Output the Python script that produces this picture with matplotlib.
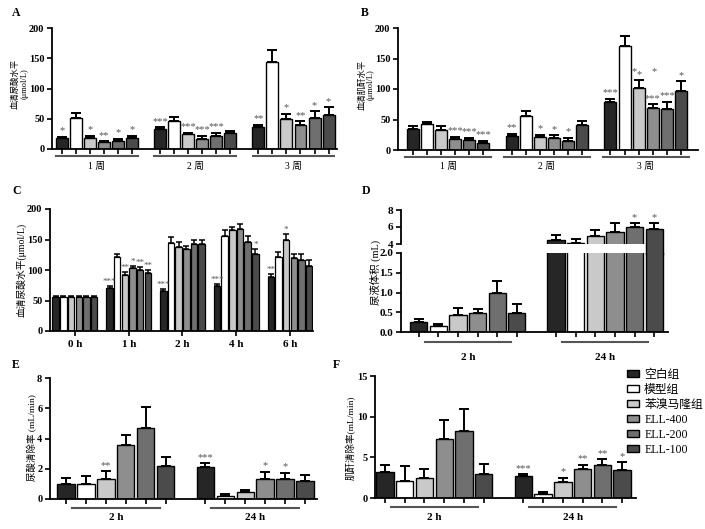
import matplotlib
matplotlib.use('Agg')
import matplotlib.pyplot as plt
import matplotlib.transforms as mtrans
import numpy as np
from matplotlib.patches import Patch, Rectangle
from matplotlib.lines import Line2D

plt.rcParams['font.family'] = ['Liberation Serif', 'Noto Sans CJK SC']
plt.rcParams['axes.linewidth'] = 1.3

W, H = 705, 529
fig = plt.figure(figsize=(W / 100, H / 100), dpi=100)

group_names = ['空白组', '模型组', '苯溴马隆组', 'ELL-400', 'ELL-200', 'ELL-100']
colors = ['#262626', '#ffffff', '#c9c9c9', '#8e8e8e', '#6f6f6f', '#4b4b4b']

# ---------------- data ----------------
A_labels = ['1 周', '2 周', '3 周']
A_vals = [[18, 51, 18, 11, 14, 19], [33, 47, 24, 17, 22, 26], [37, 143, 50, 40, 51, 57]]
A_errs = [[2, 8, 4, 2, 3, 3], [3, 6, 3, 5, 5, 4], [3, 20, 8, 6, 11, 12]]
A_stars = [['*', '', '*', '**', '*', '*'], ['***', '', '***', '***', '***', ''], ['**', '', '*', '**', '*', '*']]

B_labels = ['1 周', '2 周', '3 周']
B_vals = [[35, 42, 32, 18, 17, 11], [23, 55, 21, 20, 15, 41], [79, 171, 102, 69, 68, 97]]
B_errs = [[5, 4, 8, 4, 3, 4], [4, 9, 4, 4, 5, 7], [5, 16, 12, 6, 11, 16]]
B_stars = [['', '', '', '***', '***', '***'], ['**', '', '*', '*', '*', ''], ['***', '', '*', '***', '***', '*']]

C_labels = ['0 h', '1 h', '2 h', '4 h', '6 h']
C_vals = [[55, 55, 55, 55, 55, 55], [70, 122, 91, 103, 100, 95], [65, 145, 138, 134, 143, 143],
          [73, 156, 166, 168, 146, 127], [88, 121, 150, 119, 116, 107]]
C_errs = [[3, 3, 3, 3, 3, 3], [4, 5, 6, 4, 5, 5], [4, 9, 8, 5, 6, 6], [4, 10, 5, 8, 9, 7], [6, 9, 9, 7, 10, 10]]
C_stars = [['', '', '', '', '', ''], ['***', '', '**', '*', '**', '**'], ['***', '', '', '', '', ''],
           ['***', '', '', '', '', '*'], ['**', '', '*', '', '', '']]

D_labels = ['2 h', '24 h']
D_vals = [[0.25, 0.15, 0.42, 0.47, 1.0, 0.48], [4.5, 4.1, 5.0, 5.4, 6.0, 5.8]]
D_errs = [[0.09, 0.05, 0.19, 0.12, 0.3, 0.23], [0.6, 0.5, 0.65, 1.1, 0.45, 0.65]]
D_stars = [['', '', '', '', '', ''], ['', '', '', '', '*', '*']]

E_labels = ['2 h', '24 h']
E_vals = [[1.0, 1.0, 1.35, 3.6, 4.7, 2.2], [2.1, 0.2, 0.45, 1.3, 1.3, 1.18]]
E_errs = [[0.4, 0.5, 0.5, 0.65, 1.35, 0.55], [0.25, 0.1, 0.15, 0.5, 0.45, 0.4]]
E_stars = [['', '', '**', '', '', ''], ['***', '', '', '*', '*', '']]

F_labels = ['2 h', '24 h']
F_vals = [[3.2, 2.1, 2.4, 7.3, 8.2, 2.9], [2.7, 0.5, 2.0, 3.6, 4.0, 3.5]]
F_errs = [[0.85, 1.8, 1.2, 2.3, 2.8, 1.25], [0.25, 0.2, 0.5, 0.5, 0.75, 0.9]]
F_stars = [['', '', '', '', '', ''], ['***', '', '*', '**', '**', '*']]

GAP = 7


def add_ax(l, t, r, b):
    return fig.add_axes([l / W, 1 - b / H, (r - l) / W, (b - t) / H])


def style(ax, fs=7.5):
    for s in ['top', 'right']:
        ax.spines[s].set_visible(False)
    ax.tick_params(axis='both', direction='out', length=3.5, width=1.2, labelsize=fs, pad=2)
    for lab in ax.get_yticklabels():
        lab.set_fontweight('bold')


def draw_bars(ax, vals, errs, stars, width=0.85, capsize=3.5, lw=1.0, elw=1.4, star_fs=7.5, star_off=1):
    xs = []
    for g in range(len(vals)):
        for i in range(6):
            x = g * GAP + i
            xs.append(x)
            ax.bar(x, vals[g][i], width, color=colors[i], edgecolor='black', linewidth=lw, zorder=2)
            ax.errorbar(x, vals[g][i], yerr=[[0], [errs[g][i]]], fmt='none', ecolor='black',
                        capsize=capsize, elinewidth=elw, capthick=elw, zorder=3)
            if stars[g][i]:
                ax.annotate(stars[g][i], (x, vals[g][i] + errs[g][i]), xytext=(0, star_off),
                            textcoords='offset points', ha='center', va='bottom',
                            fontsize=star_fs, color='#555555', annotation_clip=False)
    return xs


def group_lines(ax, labels, half, line_px, label_px, axh, bold=True, fs=8):
    trans = ax.get_xaxis_transform()
    for g, lab in enumerate(labels):
        c = g * GAP + 2.5
        ax.plot([c - half, c + half], [-line_px / axh] * 2, transform=trans, clip_on=False,
                color='#555555', lw=1.5)
        ax.text(c, -label_px / axh, lab, transform=trans, ha='center', va='center', fontsize=fs,
                fontweight='bold' if bold else 'normal')


# ---------------- A ----------------
axA = add_ax(52, 28, 337, 149)
xs = draw_bars(axA, A_vals, A_errs, A_stars)
axA.set_ylim(0, 200)
axA.set_yticks([0, 50, 100, 150, 200])
axA.set_xlim(-0.7, 19.6)
axA.set_xticks(xs)
axA.set_xticklabels([])
style(axA)
group_lines(axA, A_labels, 2.9, 7, 17, 121, bold=False, fs=7)

# ---------------- B ----------------
axB = add_ax(398, 28, 698, 150)
xs = draw_bars(axB, B_vals, B_errs, B_stars)
axB.set_ylim(0, 200)
axB.set_yticks([0, 50, 100, 150, 200])
axB.set_xlim(-1.05, 20.2)
axB.set_xticks(xs)
axB.set_xticklabels([])
style(axB)
group_lines(axB, B_labels, 3.05, 7, 16, 122, bold=False, fs=7)

# ---------------- C ----------------
axC = add_ax(50, 209, 313, 331)
draw_bars(axC, C_vals, C_errs, C_stars, width=0.85, capsize=2, lw=0.9, elw=1.1, star_fs=6.5, star_off=0)
axC.set_ylim(0, 200)
axC.set_yticks([0, 50, 100, 150, 200])
axC.set_xlim(-0.75, 33.5)
axC.set_xticks([g * GAP + 2.5 for g in range(5)])
axC.set_xticklabels(C_labels, fontweight='bold', fontsize=8)
style(axC)
axC.tick_params(axis='x', labelsize=8, pad=3)

# ---------------- D (broken axis) ----------------
axDu = add_ax(401, 210, 668, 244)
axDl = add_ax(401, 253, 668, 332)
for ax in (axDu, axDl):
    draw_bars(ax, D_vals, D_errs, D_stars, width=0.88)
    ax.set_xlim(-0.9, 12.7)
axDu.set_ylim(4, 8)
axDu.set_yticks([4, 6, 8])
axDl.set_ylim(0, 2)
axDl.set_yticks([0, 0.5, 1.0, 1.5, 2.0])
axDl.set_yticklabels(['0.0', '0.5', '1.0', '1.5', '2.0'])
style(axDu, fs=8)
style(axDl, fs=8)
axDu.spines['bottom'].set_visible(False)
axDu.set_xticks([])
axDl.set_xticks([g * GAP + i for g in range(2) for i in range(6)])
axDl.set_xticklabels([])
group_lines(axDl, D_labels, 2.2, 10, 25, 79)

# last bar (ELL-100, 24 h) continues through the axis break
bt = mtrans.blended_transform_factory(axDl.transData, fig.transFigure)
xc = 1 * GAP + 5
y0, y1 = 1 - 253.5 / H, 1 - 243.5 / H
fig.patches.append(Rectangle((xc - 0.44, y0), 0.88, y1 - y0, transform=bt,
                             facecolor=colors[5], edgecolor='none', zorder=5))
for xe in (xc - 0.44, xc + 0.44):
    fig.lines.append(Line2D([xe, xe], [y0, y1], transform=bt, color='black', lw=1.0, zorder=6))

# ---------------- E ----------------
axE = add_ax(50, 378, 317, 499)
xs = draw_bars(axE, E_vals, E_errs, E_stars, width=0.88)
axE.set_ylim(0, 8)
axE.set_yticks([0, 2, 4, 6, 8])
axE.set_xlim(-0.8, 12.6)
axE.set_xticks(xs)
axE.set_xticklabels([])
style(axE)
group_lines(axE, E_labels, 2.2, 9, 18, 121)

# ---------------- F ----------------
axF = add_ax(375, 376, 636, 498)
xs = draw_bars(axF, F_vals, F_errs, F_stars, width=0.88)
axF.set_ylim(0, 15)
axF.set_yticks([0, 5, 10, 15])
axF.set_xlim(-0.5, 12.7)
axF.set_xticks(xs)
axF.set_xticklabels([])
style(axF)
group_lines(axF, F_labels, 2.2, 9, 19, 122)

# ---------------- labels ----------------
def ptxt(x, y, s, **kw):
    fig.text(x / W, 1 - y / H, s, **kw)

for (x, y, s) in [(12, 13, 'A'), (361, 13, 'B'), (12, 191, 'C'), (362, 191, 'D'), (12, 365, 'E'), (333, 365, 'F')]:
    ptxt(x, y, s, fontsize=8.5, fontweight='bold', ha='left', va='center')

ptxt(20, 84, '血清尿酸水平\n(μmol/L)', rotation=90, ha='center', va='center', fontsize=6,
     multialignment='center', linespacing=1.1)
ptxt(366, 85, '血清肌酐水平\n(μmol/L)', rotation=90, ha='center', va='center', fontsize=6,
     multialignment='center', linespacing=1.1)
ptxt(21, 270, '血清尿酸水平(μmol/L)', rotation=90, ha='center', va='center', fontsize=7)
ptxt(375, 272, '尿液体积 (mL)', rotation=90, ha='center', va='center', fontsize=7.5)
ptxt(32, 438, '尿酸清除率 (mL/min)', rotation=90, ha='center', va='center', fontsize=6.8)
ptxt(351, 438, '肌酐清除率(mL/min)', rotation=90, ha='center', va='center', fontsize=6.8)

handles = [Patch(facecolor=c, edgecolor='black', linewidth=1) for c in colors]
fig.legend(handles, group_names, loc='upper left', bbox_to_anchor=(627 / W, 1 - 369 / H),
           frameon=False, fontsize=8.5, handlelength=1.0, handleheight=0.5, labelspacing=0.25,
           handletextpad=0.45, borderaxespad=0, borderpad=0)

fig.savefig('out.png', dpi=100)
